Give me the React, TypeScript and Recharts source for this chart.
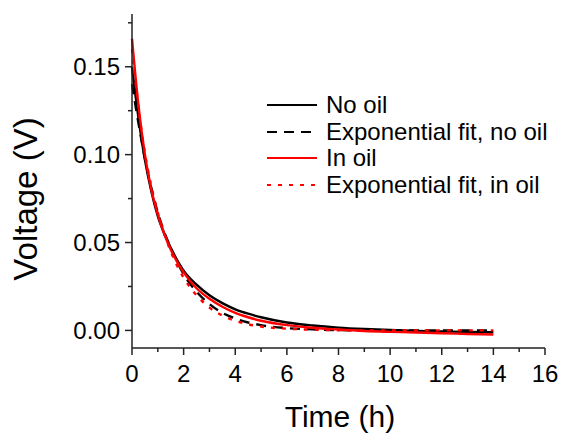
import React from "react"
import { LineChart, Line, XAxis, YAxis } from "recharts"

// time in hours
const times = [0, 0.25, 0.5, 0.75, 1, 1.25, 1.5, 2, 2.5, 3, 3.5, 4, 4.5, 5, 6, 7, 8, 9, 10, 11, 12, 13, 14]

// measured, no oil
const noOil = [0.15, 0.121, 0.097, 0.079, 0.065, 0.055, 0.047, 0.034, 0.026, 0.02, 0.0155, 0.012, 0.0095, 0.0075, 0.0045, 0.0028, 0.0016, 0.0008, 0.0002, -0.0003, -0.0006, -0.0008, -0.001]
// exponential fit, no oil
const fitNoOil = [0.14, 0.118, 0.098, 0.081, 0.067, 0.056, 0.047, 0.032, 0.022, 0.015, 0.01, 0.0068, 0.0045, 0.003, 0.0013, 0.0006, 0.0002, 0, 0, 0, 0, 0, 0]
// measured, in oil
const inOil = [0.166, 0.128, 0.1, 0.08, 0.066, 0.055, 0.046, 0.033, 0.024, 0.018, 0.0135, 0.01, 0.0075, 0.0055, 0.003, 0.0015, 0.0005, -0.0003, -0.0008, -0.0012, -0.0016, -0.002, -0.0023]
// exponential fit, in oil
const fitInOil = [0.16, 0.127, 0.101, 0.082, 0.067, 0.055, 0.045, 0.03, 0.02, 0.013, 0.0085, 0.0055, 0.0035, 0.0022, 0.001, 0.0004, 0.0001, 0, 0, 0, 0, 0, 0]

const xTicks = [0, 1, 2, 3, 4, 5, 6, 7, 8, 9, 10, 11, 12, 13, 14, 15, 16]
const yTicks = [0, 0.025, 0.05, 0.075, 0.1, 0.125, 0.15, 0.175]

const data = times.map((t, i) => ({
  t,
  noOil: noOil[i],
  fitNoOil: fitNoOil[i],
  inOil: inOil[i],
  fitInOil: fitInOil[i],
}))

const series = [
  { key: "noOil", name: "No oil", color: "#000", dash: undefined },
  { key: "fitNoOil", name: "Exponential fit, no oil", color: "#000", dash: "10 7" },
  { key: "inOil", name: "In oil", color: "#ff0000", dash: undefined },
  { key: "fitInOil", name: "Exponential fit, in oil", color: "#ff0000", dash: "4 7" },
]

const font = "'Liberation Sans', Arial, sans-serif"

const XTick = (props: any) => {
  const { x, y, payload } = props
  const major = payload.value % 2 === 0
  return (
    <g>
      <line x1={x} x2={x} y1={y} y2={y + (major ? 7 : 4)} stroke="#222" strokeWidth={1.5} />
      {major && (
        <text x={x} y={y + 34} textAnchor="middle" fontSize={24} fill="#000" fontFamily={font}>
          {payload.value}
        </text>
      )}
    </g>
  )
}

const YTick = (props: any) => {
  const { x, y, payload } = props
  const major = Math.round(payload.value * 1000) % 50 === 0
  return (
    <g>
      <line x1={x} x2={x - (major ? 7 : 4)} y1={y} y2={y} stroke="#222" strokeWidth={1.5} />
      {major && (
        <text x={x - 12} y={y + 8.5} textAnchor="end" fontSize={24} fill="#000" fontFamily={font}>
          {payload.value.toFixed(2)}
        </text>
      )}
    </g>
  )
}

const LegendBox = () => (
  <div
    style={{
      position: "absolute",
      left: 267,
      top: 92,
      fontFamily: font,
      fontSize: 24,
      color: "#000",
    }}
  >
    {series.map((s) => (
      <div key={s.key} style={{ display: "flex", alignItems: "center", height: 26.5 }}>
        <svg width={52} height={10} style={{ marginRight: 7 }}>
          <line x1={0} x2={50} y1={5} y2={5} stroke={s.color} strokeWidth={2.2} strokeDasharray={s.dash} />
        </svg>
        <span style={{ whiteSpace: "nowrap" }}>{s.name}</span>
      </div>
    ))}
  </div>
)

export default function App() {
  return (
    <div style={{ position: "absolute", left: 0, top: 0, width: 563, height: 437, background: "#fff" }}>
      <LineChart width={563} height={437} data={data} margin={{ top: 14, right: 18, bottom: 0, left: 0 }}>
        <XAxis
          dataKey="t"
          type="number"
          domain={[0, 16]}
          ticks={xTicks}
          interval={0}
          tickSize={0}
          tickMargin={0}
          tickLine={false}
          tick={<XTick />}
          height={89}
          stroke="#222"
          strokeWidth={1.5}
          label={{
            content: () => (
              <text x={340} y={427} textAnchor="middle" fontSize={30} fill="#000" fontFamily={font}>
                Time (h)
              </text>
            ),
          }}
        />
        <YAxis
          type="number"
          domain={[-0.01, 0.18]}
          ticks={yTicks}
          interval={0}
          tickSize={0}
          tickMargin={0}
          tickLine={false}
          tick={<YTick />}
          width={132}
          stroke="#222"
          strokeWidth={1.5}
          allowDataOverflow
          label={{
            content: () => (
              <text
                x={37}
                y={199}
                textAnchor="middle"
                fontSize={33}
                fill="#000"
                fontFamily={font}
                transform="rotate(-90 37 199)"
              >
                Voltage (V)
              </text>
            ),
          }}
        />
        {series.map((s) => (
          <Line
            key={s.key}
            dataKey={s.key}
            name={s.name}
            type="monotone"
            stroke={s.color}
            strokeWidth={2.4}
            strokeDasharray={s.dash}
            dot={false}
            isAnimationActive={false}
          />
        ))}
      </LineChart>
      <LegendBox />
    </div>
  )
}
